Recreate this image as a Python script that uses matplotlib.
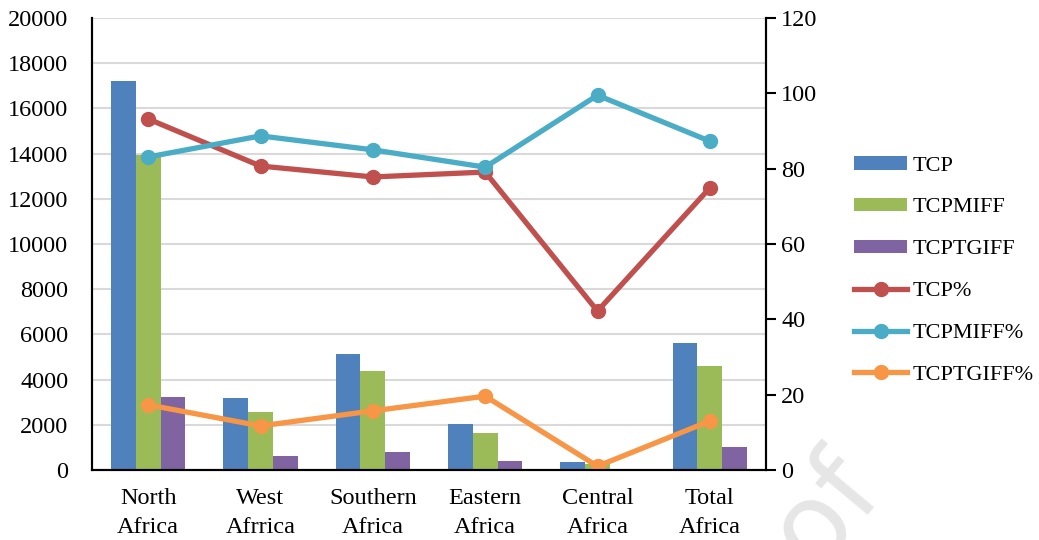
import numpy as np
import matplotlib
matplotlib.use("Agg")
import matplotlib.pyplot as plt

plt.rcParams['font.family'] = ['Liberation Serif', 'DejaVu Serif']

# data
regions = ["North\nAfrica", "West\nAfrrica", "Southern\nAfrica", "Eastern\nAfrica",
           "Central\nAfrica", "Total\nAfrica"]
tcp = [17200, 3190, 5130, 2040, 350, 5610]
tcpmiff = [13950, 2570, 4380, 1640, 250, 4600]
tcptgiff = [3230, 620, 800, 400, 30, 1020]
tcp_pct = [93.2, 80.7, 77.8, 79.1, 42.2, 74.9]
tcpmiff_pct = [83.1, 88.7, 85.0, 80.4, 99.5, 87.3]
tcptgiff_pct = [17.3, 11.7, 15.7, 19.6, 1.0, 13.0]

fig = plt.figure(figsize=(10.39, 5.4), dpi=100)
ax1 = fig.add_axes([92/1039, 1-470/540, (766-92)/1039, (470-18)/540])
ax2 = ax1.twinx()

x = np.arange(len(regions))
w = 0.22
ax1.bar(x - w, tcp, w, color='#4f81bd', label='TCP', zorder=2)
ax1.bar(x, tcpmiff, w, color='#9bbb59', label='TCPMIFF', zorder=2)
ax1.bar(x + w, tcptgiff, w, color='#8064a2', label='TCPTGIFF', zorder=2)

ax2.plot(x, tcp_pct, color='#c0504d', lw=3.8, marker='o', ms=10, label='TCP%')
ax2.plot(x, tcpmiff_pct, color='#4bacc6', lw=3.8, marker='o', ms=10, label='TCPMIFF%')
ax2.plot(x, tcptgiff_pct, color='#f79646', lw=3.8, marker='o', ms=10, label='TCPTGIFF%')

ax1.set_xlim(-0.5, len(regions) - 0.5)
ax1.set_ylim(0, 20000)
ax1.set_yticks(np.arange(0, 20001, 2000))
ax2.set_ylim(0, 120)
ax2.set_yticks(np.arange(0, 121, 20))

ax1.yaxis.grid(True, color='#d9d9d9', lw=1.5, zorder=0)
ax1.set_axisbelow(True)

ax1.set_xticks(x)
ax1.set_xticklabels(regions, fontsize=17.5, linespacing=1.5)
ax1.tick_params(axis='x', length=0, pad=13)
ax1.tick_params(axis='y', length=0, labelsize=17.5, pad=17)
ax2.tick_params(axis='y', length=7, width=1.5, labelsize=17.5, pad=4, direction='out')

for ax in (ax1, ax2):
    ax.spines['top'].set_visible(False)
    for s in ('left', 'right', 'bottom'):
        ax.spines[s].set_linewidth(1.5)
        ax.spines[s].set_color('black')

h1, l1 = ax1.get_legend_handles_labels()
h2, l2 = ax2.get_legend_handles_labels()
fig.legend(h1 + h2, l1 + l2, loc='upper left', bbox_to_anchor=(843/1039, 1-145/540),
           frameon=False, fontsize=16, handlelength=2.4, handleheight=0.55,
           labelspacing=1.0, handletextpad=0.25, borderpad=0)

# faint watermark
fig.text(888/1039, 1-497/540, "Journal Pre-proof", fontsize=80, color='#e6e6e6',
         family='DejaVu Sans', rotation=50, rotation_mode='anchor',
         ha='right', va='baseline', zorder=-1)

fig.savefig("out.png", dpi=100)
